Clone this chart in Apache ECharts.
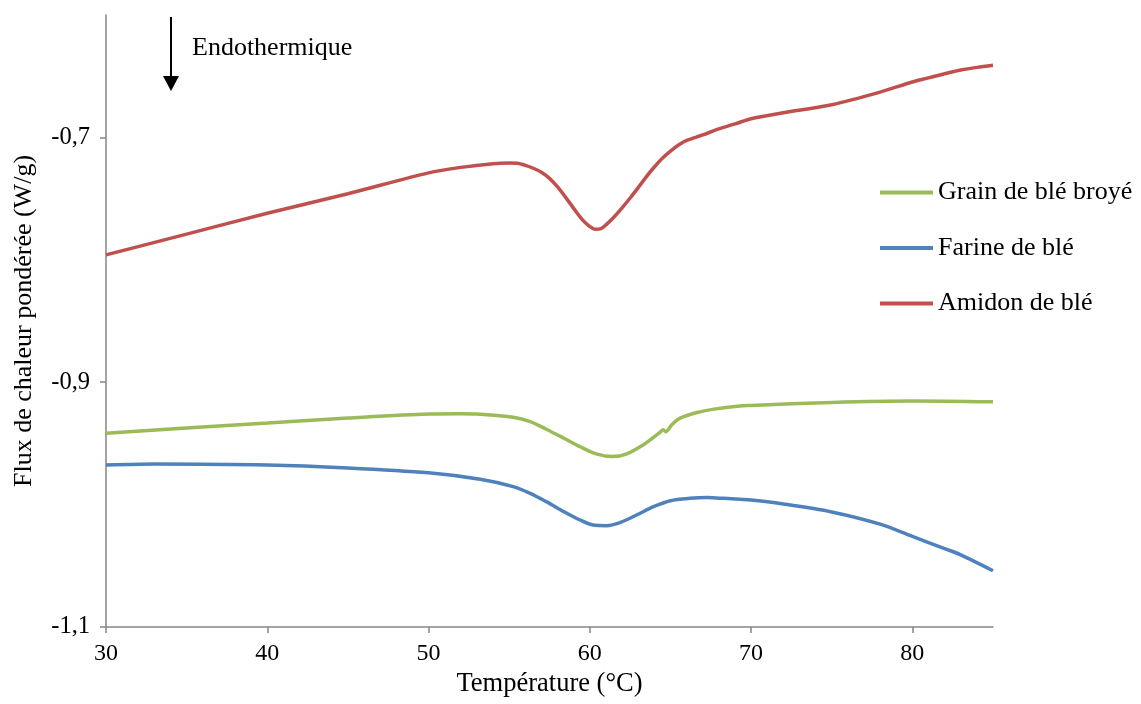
<!DOCTYPE html>
<html>
<head>
<meta charset="utf-8">
<script src="https://cdn.jsdelivr.net/npm/echarts@6/dist/echarts.min.js"></script>
<style>html,body{margin:0;padding:0;background:#fff}#c{width:1141px;height:704px}</style>
</head>
<body>
<div id="c"></div>
<script>
// ---- data ----
const seriesNames = ['Grain de blé broyé', 'Farine de blé', 'Amidon de blé'];
const xTicks = [30, 40, 50, 60, 70, 80];
const yTicks = [-1.1, -0.9, -0.7];

const grainT = [30,35,40,45,50,52,53.2,55.25,56.3,57.3,58.4,59.4,60.4,61.4,62.3,63.3,63.85,64.36,64.55,64.7,65.1,65.6,66.65,67.7,69.3,70,75,80,85];
const grainV = [-0.9417,-0.9375,-0.9334,-0.9293,-0.926,-0.9258,-0.9262,-0.9287,-0.9322,-0.9384,-0.9458,-0.9527,-0.9586,-0.9608,-0.9586,-0.9513,-0.946,-0.9408,-0.9388,-0.9404,-0.9345,-0.9294,-0.9248,-0.922,-0.9194,-0.919,-0.9165,-0.9153,-0.916];

const farineT = [30,33,40,45,50,53.2,55.25,56.3,57.3,58.4,59.4,60.2,61.05,61.9,62.9,63.95,65,66.2,67.3,68.3,69.3,70,72,75,78,80,82,83,85];
const farineV = [-0.9676,-0.9668,-0.9676,-0.970,-0.974,-0.9793,-0.9853,-0.9908,-0.9976,-1.0058,-1.0126,-1.0167,-1.0172,-1.0145,-1.0085,-1.0017,-0.9968,-0.9949,-0.9943,-0.9949,-0.9957,-0.9963,-0.9995,-1.006,-1.016,-1.026,-1.036,-1.041,-1.054];

const amidonT = [30,35,40,45,50,52,54,55,55.5,56,56.5,57,57.5,58,58.5,59,59.5,60,60.3,60.7,61,61.5,62,62.5,63,63.5,64,64.5,65,65.5,66,67,68,69,70,72,75,78,80,81,82,83,84,85];
const amidonV = [-0.796,-0.779,-0.762,-0.746,-0.729,-0.7245,-0.7215,-0.721,-0.7212,-0.7228,-0.7252,-0.7285,-0.7335,-0.7405,-0.749,-0.758,-0.7667,-0.7728,-0.775,-0.7745,-0.7715,-0.765,-0.7575,-0.7495,-0.741,-0.7322,-0.7242,-0.717,-0.7112,-0.7062,-0.7025,-0.698,-0.693,-0.689,-0.6847,-0.6799,-0.6733,-0.663,-0.6547,-0.6514,-0.648,-0.645,-0.6428,-0.6411];

const colors = ['#9BBB59', '#4F81BD', '#C0504D'];
const FONT = '"Liberation Serif", "Times New Roman", serif';

function pairs(t, v) { return t.map((x, i) => [x, v[i]]); }

const chart = echarts.init(document.getElementById('c'), null, {renderer: 'canvas'});
const axisCol = '#868686';
chart.setOption({
  animation: false,
  backgroundColor: '#ffffff',
  color: colors,
  grid: {left: 106, right: 148, top: 15, bottom: 77},
  legend: {
    orient: 'vertical', left: 880, top: 179.5, itemGap: 29.5, padding: 0,
    icon: 'rect', itemWidth: 53, itemHeight: 4,
    textStyle: {fontFamily: FONT, fontSize: 26, color: '#000', lineHeight: 26},
    data: seriesNames
  },
  xAxis: {
    type: 'value', min: 30, max: 85, interval: 10,
    name: 'Température (°C)', nameLocation: 'middle', nameGap: 42,
    nameTextStyle: {fontFamily: FONT, fontSize: 26.5, color: '#000'},
    axisLine: {show: true, lineStyle: {color: axisCol, width: 1.5}},
    axisTick: {show: true, length: 6, lineStyle: {color: axisCol, width: 1.5}, customValues: xTicks},
    axisLabel: {fontFamily: FONT, fontSize: 24, color: '#000', margin: 15, customValues: xTicks},
    splitLine: {show: false}
  },
  yAxis: {
    type: 'value', min: -1.1, max: -0.6, interval: 0.2,
    name: 'Flux de chaleur pondérée (W/g)', nameLocation: 'middle', nameGap: 69, nameRotate: 90,
    nameTextStyle: {fontFamily: FONT, fontSize: 26, color: '#000'},
    axisLine: {show: true, lineStyle: {color: axisCol, width: 1.5}},
    axisTick: {show: true, length: 6, lineStyle: {color: axisCol, width: 1.5}, customValues: yTicks},
    axisLabel: {fontFamily: FONT, fontSize: 24.5, color: '#000', margin: 16, customValues: yTicks,
      formatter: v => v.toFixed(1).replace('.', ',')},
    splitLine: {show: false}
  },
  graphic: [
    {type: 'line', shape: {x1: 171, y1: 17, x2: 171, y2: 78}, style: {stroke: '#000', lineWidth: 2}},
    {type: 'polygon', shape: {points: [[163, 76], [179, 76], [171, 91]]}, style: {fill: '#000'}},
    {type: 'text', left: 192, top: 35, style: {text: 'Endothermique', font: '26px ' + FONT, fill: '#000'}}
  ],
  series: [
    {name: seriesNames[0], type: 'line', data: pairs(grainT, grainV), showSymbol: false, smooth: 0.3, lineStyle: {width: 3.5, color: colors[0]}, itemStyle: {color: colors[0]}},
    {name: seriesNames[1], type: 'line', data: pairs(farineT, farineV), showSymbol: false, smooth: 0.3, lineStyle: {width: 3.5, color: colors[1]}, itemStyle: {color: colors[1]}},
    {name: seriesNames[2], type: 'line', data: pairs(amidonT, amidonV), showSymbol: false, smooth: 0.3, lineStyle: {width: 3.5, color: colors[2]}, itemStyle: {color: colors[2]}}
  ]
});
</script>
</body>
</html>
